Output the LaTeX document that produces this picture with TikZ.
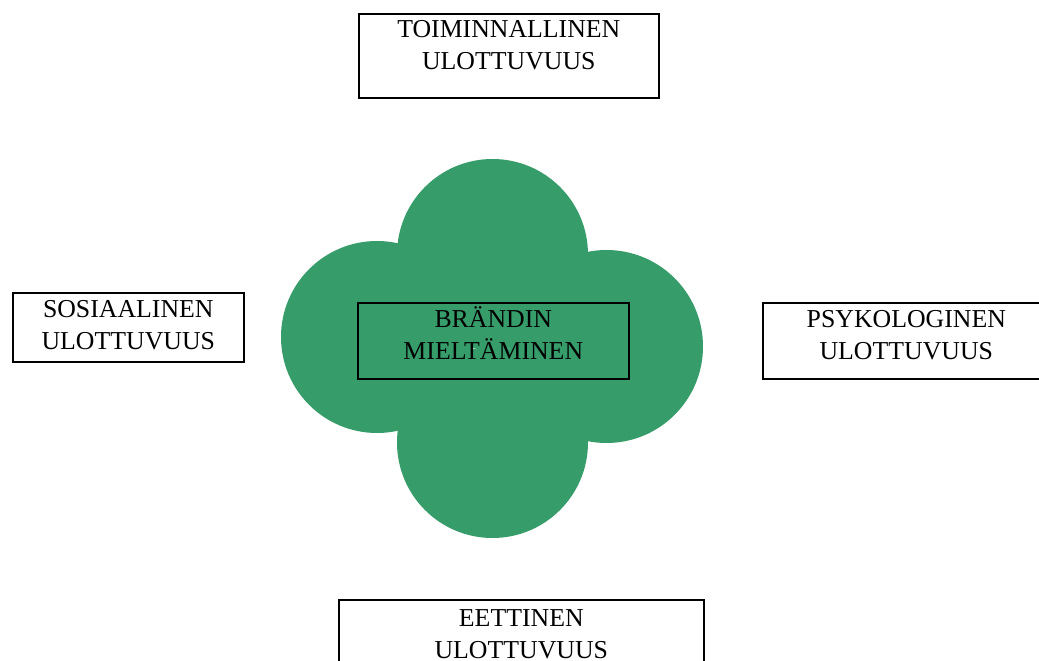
\documentclass[tikz,border=0pt]{standalone}
\usepackage{fontspec}
\setmainfont{Liberation Serif}
\definecolor{leafgreen}{RGB}{54,156,106}
\tikzset{
  dimbox/.style={draw=black, line width=1.6pt, inner sep=0pt, anchor=north west, font=\fontsize{25.8pt}{32pt}\selectfont},
  leaf/.style={fill=leafgreen}
}
\newcommand{\boxtext}[4]{\parbox[c][#2pt][t]{#1pt}{\centering\rule{0pt}{#3pt}#4}}
\begin{document}
\begin{tikzpicture}[x=1pt, y=-1pt]
\useasboundingbox (0,0) rectangle (1039,661);
% clover shape
\fill[leaf] (492.5,254.5) circle (95.5);
\fill[leaf] (377,337) circle (96);
\fill[leaf] (606.5,346.5) circle (96.5);
\fill[leaf] (492.5,442.5) circle (95.5);
% boxes
\node[dimbox] (core) at (357,302) {\boxtext{271}{76}{25}{BRÄNDIN\\MIELTÄMINEN}};
\node[dimbox] (top) at (358,13) {\boxtext{300}{84}{24}{TOIMINNALLINEN\\ULOTTUVUUS}};
\node[dimbox] (left) at (12,292) {\boxtext{231}{69}{25}{SOSIAALINEN\\ULOTTUVUUS}};
\node[dimbox] (right) at (762,302) {\boxtext{287}{76}{25}{PSYKOLOGINEN\\ULOTTUVUUS}};
\node[dimbox] (bottom) at (338,599) {\boxtext{365}{84}{27}{EETTINEN\\ULOTTUVUUS}};
\end{tikzpicture}
\end{document}
